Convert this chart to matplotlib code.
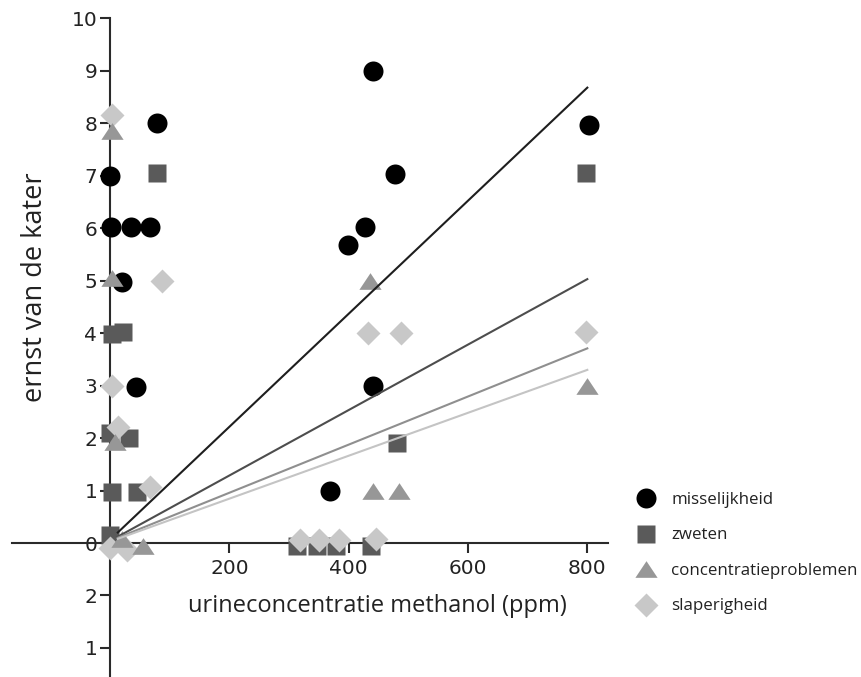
import matplotlib
matplotlib.use("Agg")
import matplotlib.pyplot as plt
from matplotlib.lines import Line2D

# ---------------- data ----------------
series_names = ["misselijkheid", "zweten", "concentratieproblemen", "slaperigheid"]

mis_x = [0, 1, 35, 67, 20, 44, 78, 399, 368, 427, 440, 478, 441, 802]
mis_y = [7.0, 6.03, 6.03, 6.03, 4.97, 2.98, 8.0, 5.68, 1.0, 6.02, 9.0, 7.04, 3.0, 7.97]

zwe_x = [78, 3, 22, 0, 31, 3, 45, 0, 314, 347, 379, 437, 481, 797]
zwe_y = [7.05, 3.98, 4.03, 2.1, 2.0, 0.98, 0.98, 0.15, -0.06, -0.06, -0.06, -0.06, 1.91, 7.05]

con_x = [4, 4, 8, 20, 56, 436, 441, 485, 800]
con_y = [7.85, 5.05, 1.93, 0.08, -0.05, 5.0, 1.0, 1.0, 3.0]

sla_x = [4, 87, 4, 14, 67, 0, 28, 318, 351, 383, 446, 433, 488, 798]
sla_y = [8.15, 5.0, 3.0, 2.22, 1.07, -0.1, -0.13, 0.05, 0.05, 0.05, 0.08, 4.0, 4.0, 4.02]

# fitted trend lines (start / end)
fit_x = [13, 800]
fit_mis = [0.2, 8.68]
fit_zwe = [0.12, 5.03]
fit_con = [0.1, 3.71]
fit_sla = [0.08, 3.30]

ytick_vals = [-2, -1, 0, 1, 2, 3, 4, 5, 6, 7, 8, 9, 10]
ytick_labels = ["1", "2", "0", "1", "2", "3", "4", "5", "6", "7", "8", "9", "10"]
xtick_vals = [200, 400, 600, 800]
xtick_labels = ["200", "400", "600", "800"]

# ---------------- styles ----------------
c_mis, c_zwe, c_con, c_sla = "#000000", "#5a5a5a", "#979797", "#c8c8c8"
l_mis, l_zwe, l_con, l_sla = "#1e1e1e", "#4d4d4d", "#8f8f8f", "#c4c4c4"
tri = [(-1, -0.75), (1, -0.75), (0, 0.75)]

W, H = 862, 677
fig = plt.figure(figsize=(W / 100, H / 100), dpi=100)
ax = fig.add_axes([12.2 / W, (H - 679.4) / H, 596 / W, 661 / H])
ax.set_xlim(-164, 835)
ax.set_ylim(-2.6, 10)

ax.plot(mis_x, mis_y, ls="none", marker="o", ms=14.4, mfc=c_mis, mec="none", zorder=3, clip_on=False)
ax.plot(zwe_x, zwe_y, ls="none", marker="s", ms=13.3, mfc=c_zwe, mec="none", zorder=4, clip_on=False)
ax.plot(sla_x, sla_y, ls="none", marker="D", ms=12.7, mfc=c_sla, mec="none", zorder=5, clip_on=False)
ax.plot(con_x, con_y, ls="none", marker=tri, ms=16, mfc=c_con, mec="none", zorder=6, clip_on=False)

ax.plot(fit_x, fit_mis, color=l_mis, lw=1.5, zorder=7)
ax.plot(fit_x, fit_zwe, color=l_zwe, lw=1.5, zorder=7)
ax.plot(fit_x, fit_con, color=l_con, lw=1.5, zorder=7)
ax.plot(fit_x, fit_sla, color=l_sla, lw=1.5, zorder=7)

for s in ["top", "right"]:
    ax.spines[s].set_visible(False)
ax.spines["left"].set_position(("data", 0))
ax.spines["bottom"].set_position(("data", 0))
for s in ["left", "bottom"]:
    ax.spines[s].set_linewidth(1.5)
    ax.spines[s].set_color("#2a2a2a")
    ax.spines[s].set_zorder(2)

ax.set_yticks(ytick_vals)
ax.set_yticklabels(ytick_labels)
ax.set_xticks(xtick_vals)
ax.set_xticklabels(xtick_labels)
ax.tick_params(axis="both", direction="out", length=7.2, width=1.5, color="#2a2a2a",
               labelsize=14.5, labelcolor="#222222")
ax.tick_params(axis="y", pad=2)
ax.tick_params(axis="x", pad=4.5)
for t in ax.get_xticklabels() + ax.get_yticklabels():
    t.set_fontfamily("DejaVu Sans")

ax.set_xlabel("urineconcentratie methanol (ppm)", fontsize=17, family="Open Sans",
              color="#222222", va="center", ha="center")
ax.xaxis.set_label_coords((377 - 12.2) / 596, (679.4 - 606) / 661)
ax.set_ylabel("ernst van de kater", fontsize=19.5, family="Open Sans",
              color="#222222", va="center", ha="center")
ax.yaxis.set_label_coords((35 - 12.2) / 596, (679.4 - 287) / 661)

handles = [
    Line2D([], [], ls="none", marker="o", ms=14.4, mfc=c_mis, mec="none"),
    Line2D([], [], ls="none", marker="s", ms=13.3, mfc=c_zwe, mec="none"),
    Line2D([], [], ls="none", marker=tri, ms=16, mfc=c_con, mec="none"),
    Line2D([], [], ls="none", marker="D", ms=12.7, mfc=c_sla, mec="none"),
]
leg = fig.legend(handles, series_names, loc="upper left",
                 bbox_to_anchor=(638 / W, 1 - 492 / H), bbox_transform=fig.transFigure,
                 frameon=False, prop={"family": "Open Sans", "size": 12.2},
                 handlelength=1.0, handletextpad=0.96, labelspacing=1.15,
                 borderpad=0, borderaxespad=0, numpoints=1)
for t in leg.get_texts():
    t.set_color("#222222")

fig.savefig("out.png", dpi=100)
